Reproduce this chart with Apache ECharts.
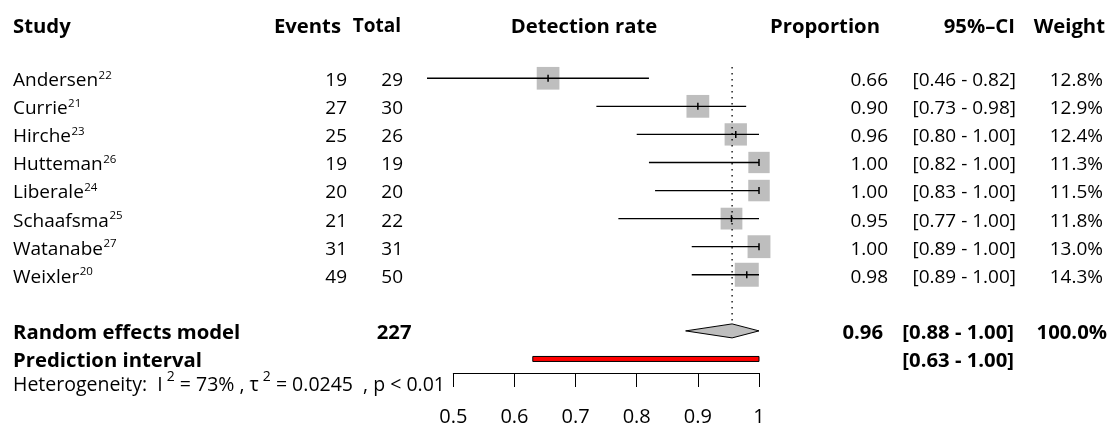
<!DOCTYPE html>
<html><head><meta charset="utf-8">
<script src="https://cdn.jsdelivr.net/npm/echarts@6/dist/echarts.min.js"></script>
<style>html,body{margin:0;padding:0;background:#fff}#c{width:1115px;height:427px}</style>
</head><body><div id="c"></div>
<script>
// ---------- data ----------
const studies = ['Andersen','Currie','Hirche','Hutteman','Liberale','Schaafsma','Watanabe','Weixler'];
const refs = ['22','21','23','26','24','25','27','20'];
const events = [19,27,25,19,20,21,31,49];
const totals = [29,30,26,19,20,22,31,50];
const estimates = [0.655,0.90,0.962,1.00,1.00,0.955,1.00,0.98];
const ciLow = [0.457,0.734,0.80,0.82,0.83,0.77,0.89,0.89];
const ciHigh = [0.82,0.979,1.00,1.00,1.00,1.00,1.00,1.00];
const propLabels = ['0.66','0.90','0.96','1.00','1.00','0.95','1.00','0.98'];
const ciLabels = ['[0.46 - 0.82]','[0.73 - 0.98]','[0.80 - 1.00]','[0.82 - 1.00]','[0.83 - 1.00]','[0.77 - 1.00]','[0.89 - 1.00]','[0.89 - 1.00]'];
const weights = [12.8,12.9,12.4,11.3,11.5,11.8,13.0,14.3];
const weightLabels = ['12.8%','12.9%','12.4%','11.3%','11.5%','11.8%','13.0%','14.3%'];
const pooled = [0.956, 0.88, 1.00];        // estimate, lower, upper
const pooledLabels = ['227','0.96','[0.88 - 1.00]','100.0%'];
const predInterval = [0.63, 1.00];
const predLabel = '[0.63 - 1.00]';
const headers = ['Study','Events','Total','Detection rate','Proportion','95%\u2013CI','Weight'];
const tickLabels = ['0.5','0.6','0.7','0.8','0.9','1'];
const hetero = ['Heterogeneity:  I','2',' = 73% , \u03c4','2',' = 0.0245  , p < 0.01'];

// ---------- layout ----------
const FF = '"Open Sans", sans-serif';
const FS = 19, FSB = 20.3;
const rowPos = studies.map((s,i)=>i);
const ROW_RE = 9, ROW_PI = 10, ROW_HEAD = -1.92, ROW_HET = 10.85;
const TXT_DY = 2.5;
const measure = (function(){
  const ctx = document.createElement('canvas').getContext('2d');
  return function(t, size, bold){ ctx.font = (bold?'bold ':'') + size + 'px "Open Sans"'; return ctx.measureText(t).width; };
})();
function T(x, y, text, align, bold, size){
  return {type:'text', style:{x:x, y:y, text:text, align:align, verticalAlign:'middle',
    fontFamily:'Open Sans', fontSize:size||(bold?FSB:FS), fontWeight:bold?'bold':'normal', fill:'#000'}};
}

const chart = echarts.init(document.getElementById('c'), null, {renderer:'canvas'});

const option = {
  animation:false,
  backgroundColor:'#fff',
  grid:{left:453.3, right:356, top:50.2, bottom:53.7, containLabel:false},
  xAxis:{type:'value', min:0.5, max:1, interval:0.1,
    axisLine:{show:true, onZero:false, lineStyle:{color:'#000', width:1}},
    axisTick:{show:true, inside:false, length:14, lineStyle:{color:'#000', width:1}},
    axisLabel:{show:true, margin:34, color:'#000', fontSize:20, fontFamily:FF,
      formatter:function(v){ return tickLabels[Math.round((v-0.5)*10)]; }},
    splitLine:{show:false}},
  yAxis:{type:'value', min:-1, max:10.5, inverse:true, show:false},
  series:[
    // study CIs and squares
    {type:'custom', z:3, data:rowPos.map(i=>[i]), renderItem:function(params, api){
      const i = api.value(0);
      const y = api.coord([0.5, i])[1];
      const xl = api.coord([ciLow[i], i])[0];
      const xh = api.coord([ciHigh[i], i])[0];
      const xe = api.coord([estimates[i], i])[0];
      const side = 6.34*Math.sqrt(weights[i]);
      return {type:'group', children:[
        {type:'rect', shape:{x:xe-side/2, y:y-side/2, width:side, height:side}, style:{fill:'#BEBEBE'}},
        {type:'line', shape:{x1:xl, y1:y, x2:xh, y2:y}, style:{stroke:'#000', lineWidth:1.3}},
        {type:'line', shape:{x1:xe, y1:y-3.5, x2:xe, y2:y+3.5}, style:{stroke:'#000', lineWidth:1.5}}
      ]};
    }},
    // reference line at pooled estimate
    {type:'custom', z:4, data:[[pooled[0]]], renderItem:function(params, api){
      const x = api.coord([api.value(0), 0])[0];
      const y1 = api.coord([0.5, -0.4])[1];
      const y2 = api.coord([0.5, ROW_RE])[1] - 7;
      return {type:'line', shape:{x1:x, y1:y1, x2:x, y2:y2}, style:{stroke:'#000', lineWidth:1.3, lineDash:[1.5,4.5]}};
    }},
    // diamond
    {type:'custom', z:3, data:[pooled], renderItem:function(params, api){
      const y = api.coord([0.5, ROW_RE])[1];
      const xe = api.coord([api.value(0), ROW_RE])[0];
      const xl = api.coord([api.value(1), ROW_RE])[0];
      const xh = api.coord([api.value(2), ROW_RE])[0];
      return {type:'polygon', shape:{points:[[xl,y],[xe,y-7],[xh,y],[xe,y+7]]}, style:{fill:'#BEBEBE', stroke:'#000', lineWidth:1}};
    }},
    // prediction interval
    {type:'custom', z:3, data:[predInterval], renderItem:function(params, api){
      const y = api.coord([0.5, ROW_PI])[1];
      const xl = api.coord([api.value(0), ROW_PI])[0];
      const xh = api.coord([api.value(1), ROW_PI])[0];
      return {type:'rect', shape:{x:xl, y:y-2.5, width:xh-xl, height:5}, style:{fill:'#FF0000', stroke:'#000', lineWidth:1}};
    }},
    // table text
    {type:'custom', z:5, data:[[0]], renderItem:function(params, api){
      const Y = r => api.coord([0.5, r])[1] + TXT_DY;
      const ch = [];
      const hy = Y(ROW_HEAD);
      ch.push(T(13, hy, headers[0], 'left', true));
      ch.push(T(341, hy, headers[1], 'right', true));
      ch.push(T(401, hy, headers[2], 'right', true, 19));
      ch.push(T(584, hy, headers[3], 'center', true));
      ch.push(T(880, hy, headers[4], 'right', true));
      ch.push(T(1015, hy, headers[5], 'right', true));
      ch.push(T(1105, hy, headers[6], 'right', true));
      studies.forEach(function(s, i){
        const y = Y(i);
        ch.push(T(13, y, s, 'left', false));
        ch.push(T(13 + measure(s, FS, false) + 0.5, y - 5.5, refs[i], 'left', false, 11.5));
        ch.push(T(347, y, String(events[i]), 'right', false));
        ch.push(T(403, y, String(totals[i]), 'right', false));
        ch.push(T(888, y, propLabels[i], 'right', false));
        ch.push(T(1016, y, ciLabels[i], 'right', false));
        ch.push(T(1103, y, weightLabels[i], 'right', false));
      });
      const yr = Y(ROW_RE);
      ch.push(T(13, yr, 'Random effects model', 'left', true));
      ch.push(T(411.5, yr, pooledLabels[0], 'right', true));
      ch.push(T(883, yr, pooledLabels[1], 'right', true));
      ch.push(T(1014, yr, pooledLabels[2], 'right', true));
      ch.push(T(1107, yr, pooledLabels[3], 'right', true));
      const yp = Y(ROW_PI);
      ch.push(T(13, yp, 'Prediction interval', 'left', true));
      ch.push(T(1014, yp, predLabel, 'right', true));
      // heterogeneity line
      const yh = Y(ROW_HET);
      let x = 13;
      hetero.forEach(function(seg, k){
        if (k % 2 === 1) {
          ch.push(T(x + 4, yh - 8, seg, 'left', false, 14));
          x += 4 + measure(seg, 14, false);
        } else {
          ch.push(T(x, yh, seg, 'left', false, 19.5));
          x += measure(seg, 19.5, false);
        }
      });
      return {type:'group', children:ch};
    }}
  ]
};
chart.setOption(option);
</script>
</body></html>
